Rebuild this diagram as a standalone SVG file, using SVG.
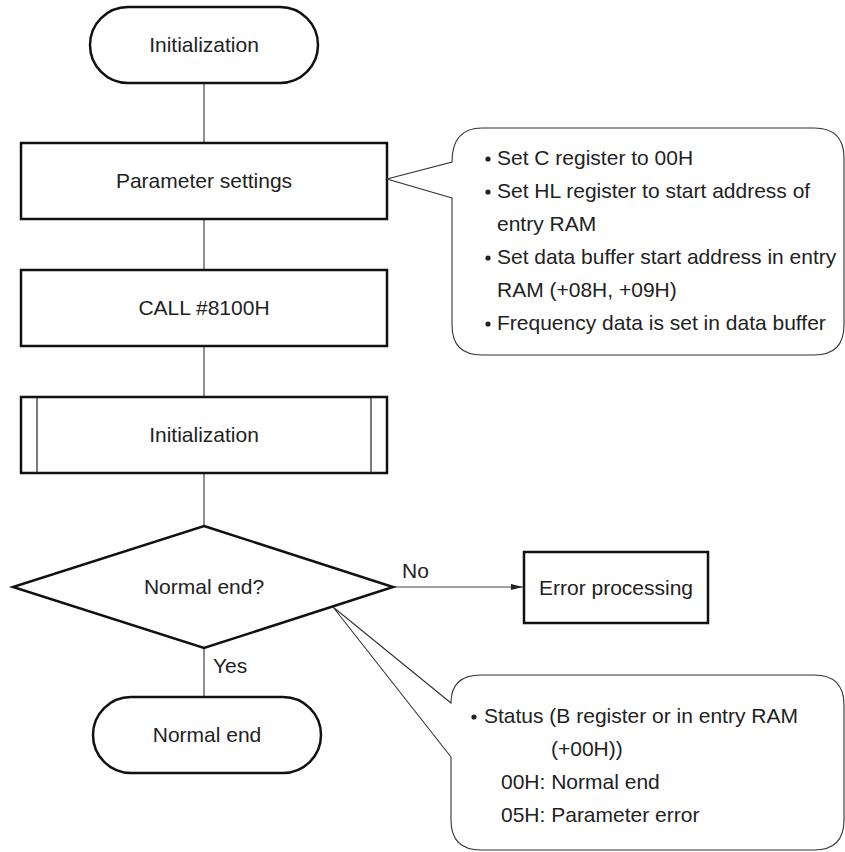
<svg xmlns="http://www.w3.org/2000/svg" width="845" height="852" viewBox="0 0 845 852">
  <defs>
    <style>
      text { font-family: "Liberation Sans", Arial, Helvetica, sans-serif; font-size: 21px; fill: #222; }
      .c { text-anchor: middle; }
      .shape { fill: #fff; stroke: #111; stroke-width: 2.5; }
      .thin { fill: none; stroke: #222; stroke-width: 1.2; }
      .conn { fill: none; stroke: #444; stroke-width: 1.2; }
      .bubble { fill: #fff; stroke: #333; stroke-width: 1.1; stroke-linejoin: miter; }
      .dot { fill: #222; }
    </style>
    <marker id="arrow" viewBox="0 0 12 8" refX="12" refY="4" markerWidth="12" markerHeight="8" markerUnits="userSpaceOnUse" orient="auto">
      <path d="M0,1 L12,4 L0,7 Z" fill="#222"/>
    </marker>
  </defs>

  <!-- flow connectors -->
  <g id="connectors">
    <line class="conn" x1="204" y1="83" x2="204" y2="143"/>
    <line class="conn" x1="204" y1="219" x2="204" y2="270"/>
    <line class="conn" x1="204" y1="346" x2="204" y2="397"/>
    <line class="conn" x1="204" y1="473" x2="204" y2="526"/>
    <line class="conn" x1="204" y1="648" x2="204" y2="697"/>
    <line class="conn" x1="393" y1="587" x2="523" y2="587" marker-end="url(#arrow)"/>
    <text x="402" y="578">No</text>
    <text x="213" y="673">Yes</text>
  </g>

  <!-- start terminal -->
  <g id="start">
    <rect class="shape" x="90" y="7" width="228" height="76" rx="38" ry="38"/>
    <text class="c" x="204" y="52">Initialization</text>
  </g>

  <!-- parameter settings -->
  <g id="params">
    <rect class="shape" x="21" y="143" width="366" height="76"/>
    <text class="c" x="204" y="188">Parameter settings</text>
  </g>

  <!-- call -->
  <g id="call">
    <rect class="shape" x="21" y="270" width="366" height="76"/>
    <text class="c" x="204" y="315">CALL #8100H</text>
  </g>

  <!-- predefined process -->
  <g id="init">
    <rect class="shape" x="21" y="397" width="366" height="76"/>
    <line class="thin" x1="37" y1="397" x2="37" y2="473"/>
    <line class="thin" x1="371" y1="397" x2="371" y2="473"/>
    <text class="c" x="204" y="442">Initialization</text>
  </g>

  <!-- decision -->
  <g id="decision">
    <polygon class="shape" points="204,526 393,587 204,648 13,587"/>
    <text class="c" x="204" y="594">Normal end?</text>
  </g>

  <!-- error branch -->
  <g id="error">
    <rect class="shape" x="524" y="552" width="184" height="71"/>
    <text class="c" x="616" y="595">Error processing</text>
  </g>

  <!-- end terminal -->
  <g id="end">
    <rect class="shape" x="93" y="697" width="228" height="76" rx="38" ry="38"/>
    <text class="c" x="207" y="742">Normal end</text>
  </g>

  <!-- note on parameter settings -->
  <g id="note-params">
    <path class="bubble" d="M452,198 L387,179 L452,162 Q452,128 482,128 L814,128 Q844,128 844,158 L844,325 Q844,355 814,355 L482,355 Q452,355 452,325 Z"/>
    <circle class="dot" cx="488" cy="159" r="2.6"/>
    <text x="497" y="165">Set C register to 00H</text>
    <circle class="dot" cx="488" cy="192" r="2.6"/>
    <text x="497" y="198">Set HL register to start address of</text>
    <text x="497" y="231">entry RAM</text>
    <circle class="dot" cx="488" cy="258" r="2.6"/>
    <text x="497" y="264">Set data buffer start address in entry</text>
    <text x="497" y="297">RAM (+08H, +09H)</text>
    <circle class="dot" cx="488" cy="324" r="2.6"/>
    <text x="497" y="330">Frequency data is set in data buffer</text>
  </g>

  <!-- note on status -->
  <g id="note-status">
    <path class="bubble" d="M451,757 L333,607 L451,703 Q451,675 481,675 L814,675 Q844,675 844,705 L844,820 Q844,850 814,850 L481,850 Q451,850 451,820 Z"/>
    <circle class="dot" cx="474" cy="717" r="2.6"/>
    <text x="484" y="723">Status (B register or in entry RAM</text>
    <text x="551" y="756">(+00H))</text>
    <text x="501" y="789">00H: Normal end</text>
    <text x="501" y="822">05H: Parameter error</text>
  </g>
</svg>
